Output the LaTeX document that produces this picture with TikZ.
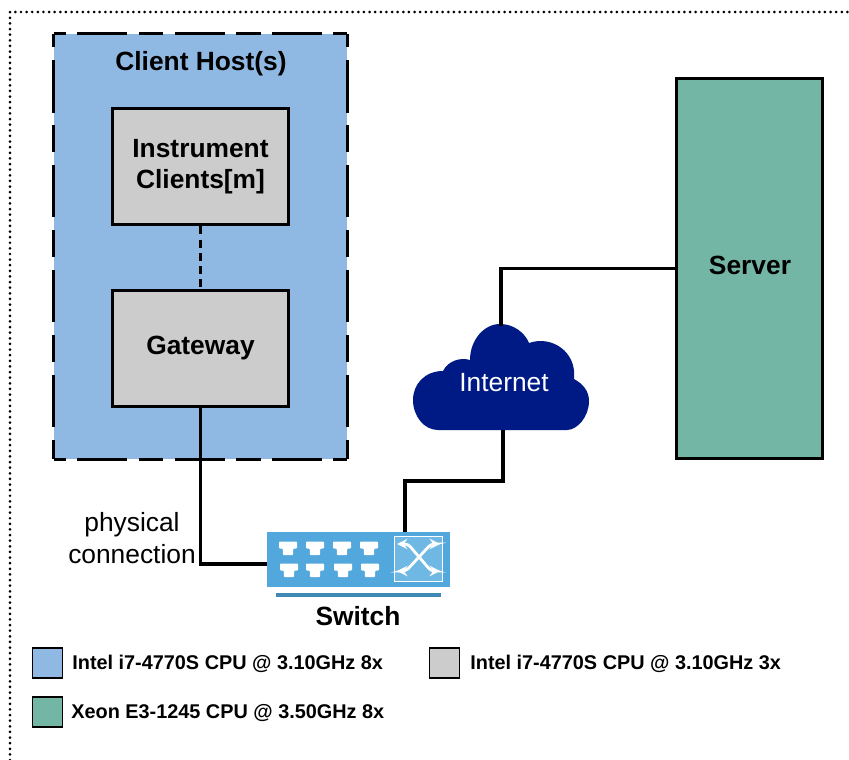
\documentclass[tikz,border=0pt]{standalone}
\usepackage{fontspec}
\setmainfont{Liberation Sans}
\definecolor{hostblue}{HTML}{8FB9E3}
\definecolor{clientgrey}{HTML}{CCCCCC}
\definecolor{servergreen}{HTML}{74B6A6}
\definecolor{cloudblue}{HTML}{001A85}
\definecolor{switchblue}{HTML}{52A7DC}
\definecolor{switchlight}{HTML}{6FB8E4}
\definecolor{switchbar}{HTML}{4189B5}
\tikzset{
  bigtext/.style={font=\fontsize{15}{18}\selectfont},
  boldtext/.style={font=\fontsize{15}{18}\selectfont\bfseries, align=center},
  box/.style={draw=black, line width=1.7pt, inner sep=0pt},
  wire/.style={draw=black, line width=1.8pt},
  hostedgex/.style={line width=1.9pt, dash pattern=on 14.2pt off 6.4pt on 28.4pt off 6.4pt, dash phase=7.1pt},
  hostedgey/.style={line width=1.9pt, dash pattern=on 15.3pt off 7.2pt on 30pt off 7.2pt, dash phase=7.6pt},
  legendbox/.style={draw=black, line width=1pt, minimum width=.6cm, minimum height=.6cm, inner sep=0pt},
  legendtext/.style={anchor=west, inner sep=0pt, font=\fontsize{11.3}{14}\selectfont\bfseries},
  port/.pic={\fill [white, rounded corners=.5pt] (-9,-6.5) -- (9,-6.5) -- (9,.5) -- (5.2,.5) -- (5.2,7) -- (-5.2,7) -- (-5.2,.5) -- (-9,.5) -- cycle;},
}

\begin{document}
\begin{tikzpicture}[x=.02cm, y=-.02cm]
\useasboundingbox (0,0) rectangle (849,760);
\draw [line width=1.7pt, line cap=round, dash pattern=on 0pt off 3.2pt] (10,760) -- (10,12) -- (849,12);

\node [fill=hostblue, inner sep=0pt, minimum width=5.86cm, minimum height=8.5cm] (host) at (200.5,246.5) {};
\draw [hostedgex] (host.north west) -- (host.north east);
\draw [hostedgex] (host.south west) -- (host.south east);
\draw [hostedgey] (host.north west) -- (host.south west);
\draw [hostedgey] (host.north east) -- (host.south east);
\node [boldtext] (hostlabel) at (201,64) {Client Host(s)};
\node [box, fill=clientgrey, boldtext, minimum width=3.54cm, minimum height=2.34cm] (clients) at (200.5,166.5) {Instrument\\Clients[m]};
\node [box, fill=clientgrey, boldtext, minimum width=3.54cm, minimum height=2.34cm] (gateway) at (200.5,348.5) {Gateway};
\node [box, fill=servergreen, minimum width=2.94cm, minimum height=7.62cm] (server) at (749.5,268.5) {};
\node [boldtext] (serverlabel) at (750,265) {Server};

% cloud
\fill [cloudblue] (438,430) .. controls (424,430) and (413,416) .. (413,400)
  .. controls (413,384) and (425,371) .. (443,371)
  .. controls (448,361) and (460,357) .. (470,360)
  .. controls (470,340) and (484,324) .. (500,324)
  .. controls (514,324) and (525,333) .. (529,343)
  .. controls (552,335) and (577,352) .. (574,379)
  .. controls (583,384) and (589,391) .. (589,401)
  .. controls (589,417) and (577,430) .. (567,430) -- cycle;
\node [bigtext, white] (internet) at (504,383) {Internet};

% switch
\node [fill=switchblue, inner sep=0pt, minimum width=3.66cm, minimum height=1.1cm] (switch) at (358.5,559.5) {};
\node [fill=switchbar, inner sep=0pt, minimum width=3.3cm, minimum height=.08cm] (switchbase) at (358.5,595) {};
\node [boldtext] (switchlabel) at (358,616) {Switch};
\pic at (288,548) {port};
\pic at (315,548) {port};
\pic at (342,548) {port};
\pic at (369,548) {port};
\pic at (289,570) {port};
\pic at (315,570) {port};
\pic at (343,570) {port};
\pic at (370,570) {port};
\node [draw=white, line width=.8pt, fill=switchlight, inner sep=0pt, minimum width=.97cm, minimum height=.9cm] (crossbox) at (418.5,559) {};
\draw [white, line width=1.6pt, <->, >=stealth, rounded corners=2pt] (397,544) -- (408,544) -- (431,571) -- (440,571);
\draw [white, line width=1.6pt, <->, >=stealth, rounded corners=2pt] (397,571) -- (406,571) -- (431,544) -- (440,544);

\coordinate (gatewayport) at (267,564);
\coordinate (uplink) at (405,532);
\coordinate (cloudbottom) at (503,430);
\coordinate (cloudtop) at (501,326);
\draw [wire] (server.west) -| (cloudtop);
\draw [wire] (cloudbottom) -- (503,481) -- (405,481) -- (uplink);
\draw [wire] (gateway.south) |- (gatewayport);
\draw [wire, dash pattern=on 4.5pt off 3pt] (clients.south) -- (gateway.north);

\node [bigtext, align=center] (physical) at (132,538) {physical\\connection};

\node [legendbox, fill=hostblue] (legendhost) at (47.5,663) {};
\node [legendtext] (legendhosttext) at (72,664) {Intel i7-4770S CPU @ 3.10GHz 8x};
\node [legendbox, fill=clientgrey] (legendclient) at (444.5,663) {};
\node [legendtext] (legendclienttext) at (470,664) {Intel i7-4770S CPU @ 3.10GHz 3x};
\node [legendbox, fill=servergreen] (legendserver) at (47.5,712) {};
\node [legendtext] (legendservertext) at (71,713) {Xeon E3-1245 CPU @ 3.50GHz 8x};
\end{tikzpicture}
\end{document}
